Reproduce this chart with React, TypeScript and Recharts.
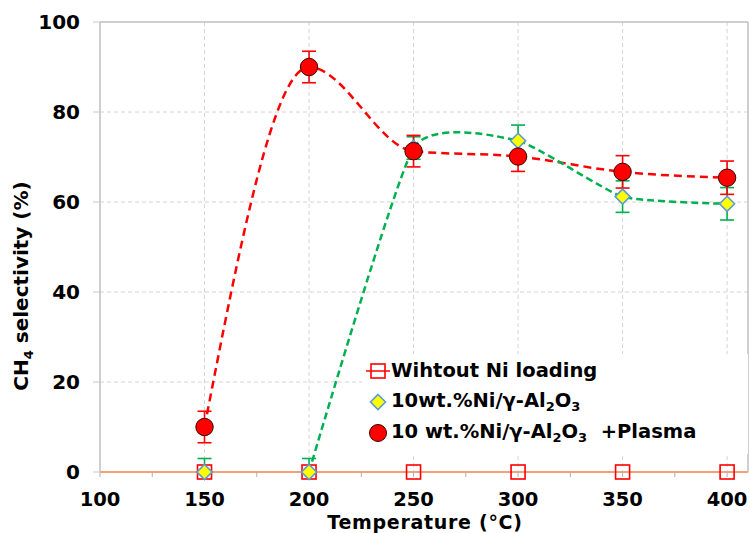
import {
  CartesianGrid,
  ErrorBar,
  Line,
  LineChart,
  ReferenceLine,
  XAxis,
  YAxis,
} from "recharts";

const temps = [150, 200, 250, 300, 350, 400];
const noNiLoading = [0, 0, 0, 0, 0, 0];
const niAl2O3 = [0, 0, 72, 73.6, 61.2, 59.6];
const niAl2O3Err: (number | number[])[] = [[0, 3], [0, 3], 2.5, 3.5, 3.5, 3.6];
const niAl2O3CurveFrom = 200;
const plasma = [10, 90, 71.3, 70.1, 66.7, 65.4];
const plasmaErr = [3.5, 3.5, 3.5, 3.3, 3.6, 3.7];

const xTicks = [100, 125, 150, 175, 200, 225, 250, 275, 300, 325, 350, 375, 400];
const yTicks = [0, 20, 40, 60, 80, 100];

const data = temps.map((t, i) => ({
  t,
  noNi: noNiLoading[i],
  ni: niAl2O3[i],
  niErr: niAl2O3Err[i],
  niCurve: t >= niAl2O3CurveFrom ? niAl2O3[i] : null,
  plasma: plasma[i],
  plasmaErr: plasmaErr[i],
}));

const FONT = "'DejaVu Sans', Verdana, sans-serif";

// smooth line like the spreadsheet one (cardinal spline)
class CardinalCurve {
  _context: any;
  _k: number;
  _line = NaN;
  _point = 0;
  _x0 = NaN; _x1 = NaN; _x2 = NaN;
  _y0 = NaN; _y1 = NaN; _y2 = NaN;
  constructor(context: any, tension: number) {
    this._context = context;
    this._k = (1 - tension) / 6;
  }
  areaStart() { this._line = 0; }
  areaEnd() { this._line = NaN; }
  lineStart() {
    this._x0 = this._x1 = this._x2 = this._y0 = this._y1 = this._y2 = NaN;
    this._point = 0;
  }
  lineEnd() {
    switch (this._point) {
      case 2: this._context.lineTo(this._x2, this._y2); break;
      case 3: this.bez(this._x1, this._y1); break;
    }
    if (this._line || (this._line !== 0 && this._point === 1)) this._context.closePath();
    this._line = 1 - this._line;
  }
  bez(x: number, y: number) {
    this._context.bezierCurveTo(
      this._x1 + this._k * (this._x2 - this._x0),
      this._y1 + this._k * (this._y2 - this._y0),
      this._x2 + this._k * (this._x1 - x),
      this._y2 + this._k * (this._y1 - y),
      this._x2,
      this._y2
    );
  }
  point(x: number, y: number) {
    x = +x; y = +y;
    switch (this._point) {
      case 0:
        this._point = 1;
        this._line ? this._context.lineTo(x, y) : this._context.moveTo(x, y);
        break;
      case 1:
        this._point = 2;
        this._x1 = x; this._y1 = y;
        break;
      case 2:
        this._point = 3;
        this.bez(x, y);
        break;
      default:
        this.bez(x, y);
        break;
    }
    this._x0 = this._x1; this._x1 = this._x2; this._x2 = x;
    this._y0 = this._y1; this._y1 = this._y2; this._y2 = y;
  }
}

const smooth = (context: any) => new CardinalCurve(context, 0.5);

const Square = ({ cx, cy }: any) => (
  <rect x={cx - 7} y={cy - 7} width={14} height={14} fill="none" stroke="#FF0000" strokeWidth={1.6} />
);
const Diamond = ({ cx, cy }: any) => (
  <path d={`M${cx},${cy - 7.5}L${cx + 7.5},${cy}L${cx},${cy + 7.5}L${cx - 7.5},${cy}Z`} fill="#FFFF00" stroke="#5B9BD5" strokeWidth={1.6} />
);
const Dot = ({ cx, cy }: any) => (
  <circle cx={cx} cy={cy} r={8.7} fill="#FF0000" stroke="#3A0000" strokeWidth={1} />
);

const XTick = ({ x, y, payload }: any) =>
  payload.value % 50 === 0 ? (
    <text x={x} y={y} dy="0.71em" textAnchor="middle" fill="#000" fontSize={19.5} fontWeight="bold" fontFamily={FONT}>
      {payload.value}
    </text>
  ) : (
    <g />
  );

const legendRow = { display: "flex", alignItems: "center", height: 31 } as const;
const legendIcon = { width: 26, display: "flex", justifyContent: "center" } as const;
const sub = { fontSize: 13, verticalAlign: "-4px" } as const;

const ChartLegend = () => (
  <div
    style={{
      position: "absolute",
      left: 362,
      top: 354,
      width: 386,
      height: 100,
      background: "#fff",
      fontFamily: FONT,
      fontWeight: "bold",
      fontSize: 19.5,
      color: "#000",
      paddingTop: 1,
      paddingLeft: 3,
      boxSizing: "border-box",
      whiteSpace: "pre",
    }}
  >
    <div style={legendRow}>
      <span style={legendIcon}>
        <svg width={24} height={16}>
          <line x1={0} y1={8} x2={24} y2={8} stroke="#FF0000" strokeWidth={1.5} />
          <rect x={5} y={1} width={14} height={14} fill="none" stroke="#FF0000" strokeWidth={1.6} />
        </svg>
      </span>
      <span>Wihtout Ni loading</span>
    </div>
    <div style={legendRow}>
      <span style={legendIcon}>
        <svg width={18} height={18}>
          <path d="M9,1.5L16.5,9L9,16.5L1.5,9Z" fill="#FFFF00" stroke="#5B9BD5" strokeWidth={1.6} />
        </svg>
      </span>
      <span>
        10wt.%Ni/γ-Al<span style={sub}>2</span>O<span style={sub}>3</span>
      </span>
    </div>
    <div style={legendRow}>
      <span style={legendIcon}>
        <svg width={20} height={20}>
          <circle cx={10} cy={10} r={8.5} fill="#FF0000" stroke="#3A0000" strokeWidth={1} />
        </svg>
      </span>
      <span>
        10 wt.%Ni/γ-Al<span style={sub}>2</span>O<span style={sub}>3</span>  +Plasma
      </span>
    </div>
  </div>
);

export default function App() {
  return (
    <div style={{ position: "absolute", left: 0, top: 0, width: 750, height: 533, background: "#fff", overflow: "hidden" }}>
      <LineChart
        width={750}
        height={533}
        data={data}
        margin={{ top: 22, right: 2, left: 0, bottom: 0 }}
      >
        <CartesianGrid
          stroke="#D4D4D4"
          strokeDasharray="4 3"
          verticalValues={[150, 200, 250, 300, 350, 400]}
          horizontalValues={[20, 40, 60, 80]}
        />
        <XAxis
          type="number"
          dataKey="t"
          domain={[100, 410]}
          ticks={xTicks}
          interval={0}
          height={61}
          tickSize={5}
          tickMargin={15}
          tickLine={{ stroke: "#B0B0B0" }}
          axisLine={{ stroke: "#F4A07A", strokeWidth: 2 }}
          tick={(p: any) => <XTick {...p} />}
        />
        <YAxis
          type="number"
          domain={[0, 100]}
          ticks={yTicks}
          interval={0}
          width={100}
          tickSize={7}
          tickMargin={13}
          tickLine={{ stroke: "#C8C8C8" }}
          axisLine={{ stroke: "#BFBFBF", strokeWidth: 1.5 }}
          tick={{ fill: "#000", fontSize: 20, fontWeight: "bold", fontFamily: FONT }}
        />
        <ReferenceLine y={100} stroke="#BFBFBF" strokeWidth={1.5} />
        <ReferenceLine x={410} stroke="#BFBFBF" strokeWidth={1.5} />
        <ReferenceLine y={0} stroke="#F4A07A" strokeWidth={2} />

        <Line
          dataKey="noNi"
          stroke="none"
          dot={(p: any) => <Square key={`sq-${p.index}`} {...p} />}
          activeDot={false}
          isAnimationActive={false}
        />
        <Line
          dataKey="ni"
          stroke="none"
          dot={(p: any) => <Diamond key={`di-${p.index}`} {...p} />}
          activeDot={false}
          isAnimationActive={false}
        >
          <ErrorBar dataKey="niErr" width={7} stroke="#00B050" strokeWidth={1.6} direction="y" />
        </Line>
        <Line
          dataKey="plasma"
          type="monotone"
          stroke="#FF0000"
          strokeWidth={2.5}
          strokeDasharray="8 5"
          dot={(p: any) => <Dot key={`ci-${p.index}`} {...p} />}
          activeDot={false}
          isAnimationActive={false}
        >
          <ErrorBar dataKey="plasmaErr" width={7} stroke="#FF0000" strokeWidth={1.6} direction="y" />
        </Line>
        <Line
          dataKey="niCurve"
          type={smooth as any}
          stroke="#00B050"
          strokeWidth={2.5}
          strokeDasharray="7 4"
          dot={false}
          activeDot={false}
          isAnimationActive={false}
        />
      </LineChart>

      <svg style={{ position: "absolute", left: 0, top: 0 }} width={60} height={533}>
        <text
          x={28}
          y={286}
          transform="rotate(-90, 28, 286)"
          textAnchor="middle"
          fontSize={20}
          fontWeight="bold"
          fontFamily={FONT}
          fill="#000"
        >
          CH<tspan fontSize={13} dy={5}>4</tspan>
          <tspan dy={-5}> selectivity (%)</tspan>
        </text>
      </svg>
      <svg style={{ position: "absolute", left: 0, top: 505 }} width={750} height={28}>
        <text x={425} y={23.5} textAnchor="middle" fontSize={19} letterSpacing={0.7} fontWeight="bold" fontFamily={FONT} fill="#000">
          Temperature (°C)
        </text>
      </svg>

      <ChartLegend />
    </div>
  );
}
